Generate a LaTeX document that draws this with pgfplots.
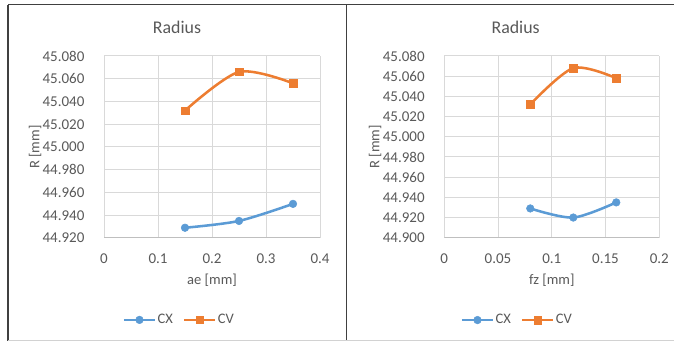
\documentclass[border=0pt]{standalone}
\usepackage{fontspec}
\setmainfont{Carlito}
\usepackage{pgfplots}
\pgfplotsset{compat=1.18}
\definecolor{cxblue}{HTML}{5B9BD5}
\definecolor{cvorange}{HTML}{ED7D31}
\definecolor{gridgray}{HTML}{D9D9D9}
\definecolor{axisgray}{HTML}{BFBFBF}
\definecolor{txtgray}{HTML}{595959}
\definecolor{framegray}{HTML}{404040}
\pgfplotsset{
  radiusstyle/.style={
    scale only axis,
    anchor=south west,
    axis line style={draw=none},
    grid=major,
    major grid style={draw=gridgray, line width=0.75pt},
    major tick length=0pt,
    tick style={draw=none},
    every axis title shift=0pt,
    /pgf/number format/assume math mode=true,
    ticklabel style={font=\fontsize{11.25}{13}\selectfont, text=txtgray, inner sep=0pt},
    yticklabel style={anchor=east, xshift=-14.5pt, /pgf/number format/fixed, /pgf/number format/fixed zerofill, /pgf/number format/precision=3, /pgf/number format/1000 sep={}},
    xticklabel style={anchor=center, yshift=-15.5pt, /pgf/number format/fixed, /pgf/number format/precision=2},
    label style={font=\fontsize{10.9}{13}\selectfont, text=txtgray},
    title style={font=\fontsize{13.4}{16}\selectfont, text=txtgray, anchor=center},
    legend style={draw=none, fill=none, font=\fontsize{10.9}{13}\selectfont, text=txtgray, legend columns=2, anchor=center,
      /tikz/every even column/.append style={column sep=6.5pt}, inner sep=0pt, nodes={inner sep=1pt}},
    legend image code/.code={\draw[mark repeat=2, mark phase=2] plot coordinates {(0cm,0cm) (0.41cm,0cm) (0.82cm,0cm)};},
    cx/.style={color=cxblue, line width=1.9pt, smooth, tension=0.5, mark=*, mark size=2.85pt, mark options={solid, fill=cxblue, draw=cxblue, line width=0.4pt}},
    cv/.style={color=cvorange, line width=1.9pt, smooth, tension=0.5, mark=square*, mark size=2.85pt, mark options={solid, fill=cvorange, draw=cvorange, line width=0.4pt}},
  }
}
\begin{document}
\begin{tikzpicture}
\path[use as bounding box] (0,0) rectangle (505.5pt,256.5pt);
% frame
\draw[framegray, line width=1.1pt] (6pt,253.1pt) -- (505.5pt,253.1pt);
\draw[framegray, line width=1.1pt] (6pt,253.1pt) -- (6pt,1.1pt);
\draw[framegray, line width=1.1pt] (260pt,253.1pt) -- (260pt,1.1pt);
\draw[axisgray!70, line width=0.8pt] (6pt,1.1pt) -- (505.5pt,1.1pt);

\begin{axis}[radiusstyle,
  at={(78pt,78pt)}, width=162pt, height=136.5pt,
  xmin=0, xmax=0.4, ymin=44.92, ymax=45.08,
  xtick={0,0.1,0.2,0.3,0.4},
  ytick={44.92,44.94,44.96,44.98,45.00,45.02,45.04,45.06,45.08},
  xlabel={ae [mm]}, ylabel={R [mm]},
  xlabel style={at={(axis description cs:0.5,-0.2308)}, anchor=center},
  ylabel style={at={(axis description cs:-0.3194,0.5)}, anchor=center},
  title={Radius}, title style={at={(axis description cs:0.338,1.1555)}},
  legend style={at={(axis description cs:0.347,-0.45)}},
]
\draw[axisgray, line width=0.75pt] (rel axis cs:0,0) -- (rel axis cs:1,0);
\addplot[cx] coordinates {(0.15,44.929) (0.25,44.935) (0.35,44.950)};
\addlegendentry{CX}
\addplot[cv] coordinates {(0.15,45.032) (0.25,45.066) (0.35,45.056)};
\addlegendentry{CV}
\end{axis}

\begin{axis}[radiusstyle,
  at={(333.2pt,78.2pt)}, width=161.25pt, height=136.3pt,
  xmin=0, xmax=0.2, ymin=44.90, ymax=45.08,
  xtick={0,0.05,0.1,0.15,0.2},
  ytick={44.90,44.92,44.94,44.96,44.98,45.00,45.02,45.04,45.06,45.08},
  xlabel={fz [mm]}, ylabel={R [mm]},
  xlabel style={at={(axis description cs:0.5,-0.2312)}, anchor=center},
  ylabel style={at={(axis description cs:-0.322,0.5)}, anchor=center},
  title={Radius}, title style={at={(axis description cs:0.332,1.1557)}},
  legend style={at={(axis description cs:0.338,-0.453)}},
]
\draw[axisgray, line width=0.75pt] (rel axis cs:0,0) -- (rel axis cs:1,0);
\addplot[cx] coordinates {(0.08,44.929) (0.12,44.920) (0.16,44.935)};
\addlegendentry{CX}
\addplot[cv] coordinates {(0.08,45.032) (0.12,45.068) (0.16,45.058)};
\addlegendentry{CV}
\end{axis}
\end{tikzpicture}
\end{document}
